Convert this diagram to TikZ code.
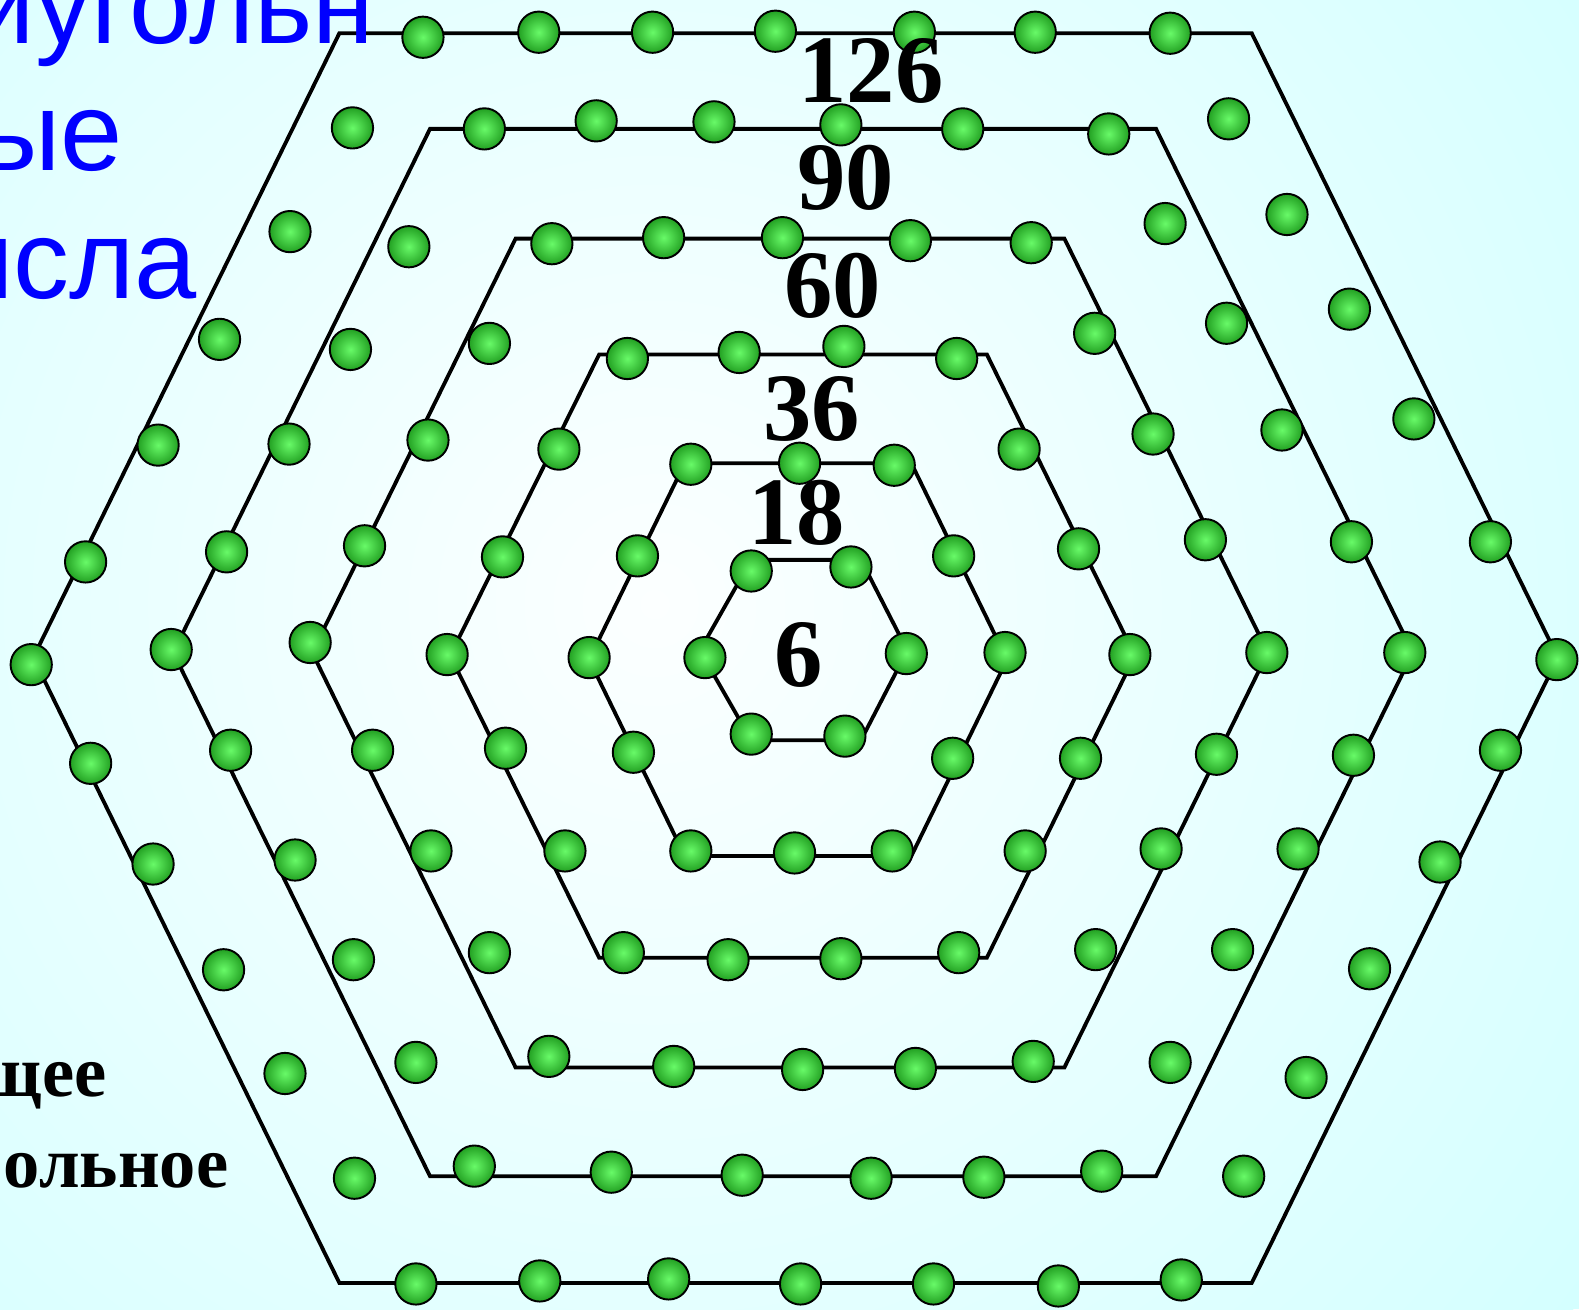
\documentclass[tikz,border=0pt]{standalone}
\usepackage{fontspec}
\setmainfont{Liberation Serif}
\newfontfamily\sansfnt{Liberation Sans}
\usepackage{tikz}
\usetikzlibrary{calc}

\definecolor{bgcyan}{RGB}{212,255,255}
\definecolor{bgwhite}{RGB}{252,255,255}
\definecolor{ballhi}{RGB}{104,250,104}
\definecolor{balllo}{RGB}{34,160,34}
\definecolor{ttlblue}{RGB}{0,0,255}

\tikzset{
  hexline/.style={line width=3.8pt, line join=miter},
  ball/.style={draw=black, line width=1.9pt, inner color=ballhi, outer color=balllo},
  shellnum/.style={inner sep=0pt, anchor=base, font=\fontsize{96}{96}\selectfont\bfseries},
  ttlline/.style={inner sep=0pt, anchor=base east, text=ttlblue, font=\sansfnt\fontsize{111}{111}\selectfont},
  capline/.style={inner sep=0pt, anchor=base east, font=\fontsize{72}{72}\selectfont\bfseries}
}

\begin{document}
\begin{tikzpicture}[x=1pt, y=-1pt]
  \useasboundingbox (0,0) rectangle (1568,1300);
  \clip (0,0) rectangle (1568,1300);
  % background
  \fill[bgcyan] (0,0) rectangle (1568,1300);
  \shade[inner color=bgwhite, outer color=bgcyan] (650,600) circle[radius=1150pt];

  % hexagons: top/bottom/left/right/left vertex/right vertex/middle
  \foreach \t/\b/\l/\r/\lv/\rv/\m in {556/735/746/855/695/901/646,
      460/850/680/905/585/1000/655, 352/951/595/980/447/1127/651,
      237/1060/512/1057/310/1259/648, 128/1168/427/1148/172/1403/648,
      33/1274/337/1243/33/1547/653}{
    \draw[hexline] (\l,\t) -- (\r,\t) -- (\rv,\m) -- (\r,\b) -- (\l,\b) -- (\lv,\m) -- cycle;
  }

  % balls, ring by ring
  \foreach \x/\y in {746/567, 845/563, 700/653, 900/649, 746/729, 839/731}{
    \path[ball] (\x,\y) circle[radius=20.5pt];
  }
  \foreach \x/\y in {686/461, 794/460, 888/462, 633/552, 585/653, 629/747,
      686/845, 789/847, 886/845, 946/753, 998/648, 947/552}{
    \path[ball] (\x,\y) circle[radius=20.5pt];
  }
  \foreach \x/\y in {623/356, 734/350, 838/344, 950/356, 555/446, 499/553,
      444/650, 502/743, 561/845, 619/946, 723/953, 835/952, 952/946,
      1018/845, 1073/753, 1122/650, 1071/545, 1012/446}{
    \path[ball] (\x,\y) circle[radius=20.5pt];
  }
  \foreach \x/\y in {548/242, 659/236, 777/236, 904/239, 1024/241, 486/341,
      425/437, 362/542, 308/638, 370/745, 428/845, 486/946, 545/1049,
      669/1059, 797/1062, 909/1061, 1026/1054, 1088/943, 1153/843,
      1208/749, 1258/648, 1197/536, 1145/431, 1087/331}{
    \path[ball] (\x,\y) circle[radius=20.5pt];
  }
  \foreach \x/\y in {481/128, 592/120, 709/121, 835/124, 956/128, 1101/133,
      406/245, 348/347, 287/441, 225/548, 170/645, 229/745, 293/854,
      351/953, 413/1055, 471/1158, 607/1164, 737/1167, 865/1170, 977/1169,
      1094/1163, 1162/1055, 1224/943, 1289/843, 1344/750, 1395/648,
      1342/538, 1273/427, 1218/321, 1157/222}{
    \path[ball] (\x,\y) circle[radius=20.5pt];
  }
  \foreach \x/\y in {420/37, 535/32, 648/32, 770/31, 908/32, 1028/32, 1162/33,
      350/127, 288/230, 218/337, 157/442, 85/558, 31/660, 90/758, 152/858,
      222/963, 283/1066, 352/1170, 413/1275, 536/1272, 664/1270, 795/1275,
      927/1275, 1051/1277, 1173/1271, 1490/745, 1430/856, 1360/962,
      1297/1070, 1235/1168, 1546/655, 1220/118, 1278/213, 1340/307,
      1404/416, 1480/538}{
    \path[ball] (\x,\y) circle[radius=20.5pt];
  }

  % shell totals
  \node[shellnum] (num126) at (865,102) {126};
  \node[shellnum] (num90) at (840,208) {90};
  \node[shellnum] (num60) at (827,315) {60};
  \node[shellnum] (num36) at (806,437) {36};
  \node[shellnum] (num18) at (791,541) {18};
  \node[shellnum] (num6) at (793,682) {6};

  % cut-off slide text
  \node[ttlline] (ttlA) at (372,43) {иугольн};
  \node[ttlline] (ttlB) at (122,169) {ые};
  \node[ttlline] (ttlC) at (196,296) {исла};
  \node[capline] (capA) at (106,1089) {щее};
  \node[capline] (capB) at (227,1179) {ольное};
\end{tikzpicture}
\end{document}
